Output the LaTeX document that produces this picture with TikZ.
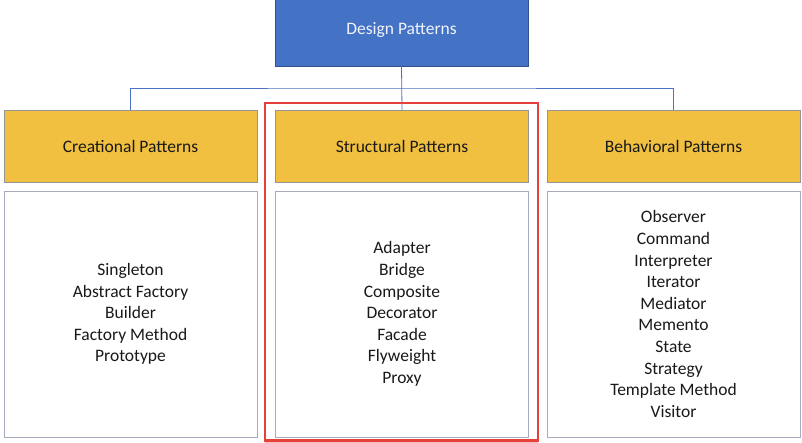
\documentclass[tikz,border=0pt]{standalone}
\usepackage{fontspec}
\setmainfont{Carlito}
\definecolor{topblue}{HTML}{4472C4}
\definecolor{topedge}{HTML}{2F528F}
\definecolor{gold}{HTML}{F1C040}
\definecolor{goldedge}{HTML}{959595}
\definecolor{listedge}{HTML}{A6AABD}
\definecolor{linkblue}{HTML}{4A72C2}
\definecolor{markred}{HTML}{E5413A}
\begin{document}
\begin{tikzpicture}[x=1pt,y=-1pt,
  font=\fontsize{17.5}{21.6}\selectfont,
  root/.style={draw=topedge,fill=topblue,text=white!92!topblue,minimum width=253pt,minimum height=72pt,inner sep=0pt},
  category/.style={draw=goldedge,fill=gold,text=black!90,minimum width=253pt,minimum height=72pt,inner sep=0pt},
  members/.style={draw=listedge,line width=0.9pt,fill=white,text=black!90,minimum width=253pt,minimum height=246pt,inner sep=0pt,align=center},
  link/.style={draw=linkblue,line width=0.8pt}]

\useasboundingbox (0,0) rectangle (802,443);

\node[root](design) at (401.5,30) {Design Patterns};

\node[category](creational) at (130.5,146) {Creational Patterns};
\node[category](structural) at (402,146) {Structural Patterns};
\node[category](behavioral) at (673.5,146) {Behavioral Patterns};

\node[members](creational list) at (130.5,314) {Singleton\\Abstract Factory\\Builder\\Factory Method\\Prototype};
\node[members](structural list) at (402,314) {Adapter\\Bridge\\Composite\\Decorator\\Facade\\Flyweight\\Proxy};
\node[members](behavioral list) at (673.5,314) {Observer\\Command\\Interpreter\\Iterator\\Mediator\\Memento\\State\\Strategy\\Template Method\\Visitor};

\coordinate (bus) at (402,88);

\draw[link] (design.south) -- (structural.north);
\draw[link] (creational.north) |- (bus) -| (behavioral.north);

% highlight round the structural column
\draw[draw=markred!35,line width=1pt] (265,442.5) -- (538,442.5);
\draw[draw=markred,line width=2.4pt] (265,103) rectangle (538,440.5);

\end{tikzpicture}
\end{document}
